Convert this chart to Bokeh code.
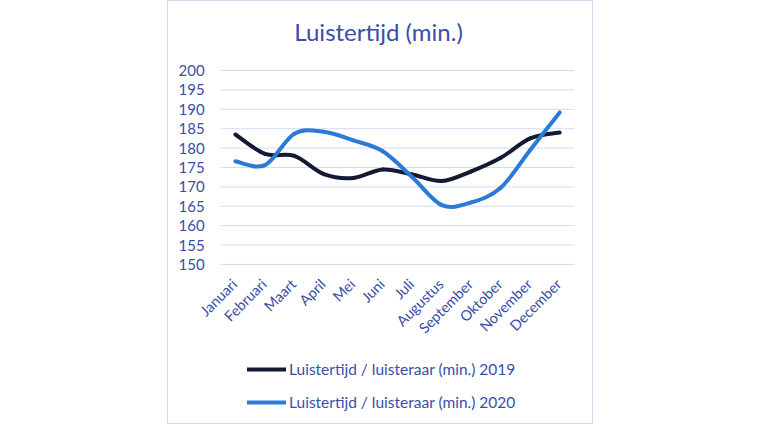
import numpy as np
from bokeh.plotting import figure
from bokeh.models import Range1d, Legend, LegendItem, Spacer, ColumnDataSource
from bokeh.layouts import row
from bokeh.embed import file_html
from bokeh.resources import INLINE
from bokeh.core.properties import value

title_text = "Luistertijd (min.)"
months = ["Januari", "Februari", "Maart", "April", "Mei", "Juni", "Juli",
          "Augustus", "September", "Oktober", "November", "December"]
values_2019 = [183.5, 178.5, 178.0, 173.3, 172.3, 174.5, 173.2, 171.5, 174.0, 177.5, 182.5, 184.0]
values_2020 = [176.6, 175.6, 183.7, 184.2, 182.0, 179.2, 172.5, 165.3, 166.0, 169.8, 179.5, 189.2]
y_ticks = list(range(150, 201, 5))
y_tick_labels = [str(t) for t in y_ticks]
series_names = ["Luistertijd / luisteraar (min.) 2019", "Luistertijd / luisteraar (min.) 2020"]
series_colors = ["#141a33", "#2a7bd6"]

TEXT = "#3a4ea6"
GRID = "#d6daf0"
FONT = "Lato"
Y_MIN, Y_MAX = y_ticks[0], y_ticks[-1]
N = len(months)
X_LEFT, X_RIGHT = -0.5, N - 0.5


def bezier_source(vals):
    x = np.arange(len(vals), dtype=float)
    y = np.asarray(vals, dtype=float)
    xp = np.concatenate([[x[0]], x, [x[-1]]])
    yp = np.concatenate([[y[0]], y, [y[-1]]])
    k = 1.0 / 6.0
    x0, y0 = x[:-1], y[:-1]
    x1, y1 = x[1:], y[1:]
    cx0 = x0 + (xp[2:-1] - xp[:-3]) * k
    cy0 = y0 + (yp[2:-1] - yp[:-3]) * k
    cx1 = x1 - (xp[3:] - xp[1:-2]) * k
    cy1 = y1 - (yp[3:] - yp[1:-2]) * k
    return ColumnDataSource(dict(x0=x0, y0=y0, x1=x1, y1=y1, cx0=cx0, cy0=cy0, cx1=cx1, cy1=cy1))


# the frame covers the whole chart box; title, tick labels, month labels and legend are drawn inside it
p = figure(width=426, height=424, output_backend="svg", toolbar_location=None,
           x_range=Range1d(-2.27, 12.18), y_range=Range1d(109.5, 217.8),
           min_border_left=0, min_border_right=0, min_border_top=0, min_border_bottom=4)
p.styles = {"border": "1px solid #d9dcf0", "box-sizing": "border-box"}
p.outline_line_color = None
p.background_fill_color = "white"
p.border_fill_color = "white"
p.axis.visible = False
p.grid.grid_line_color = None

# title
p.text(x=[(X_LEFT + X_RIGHT) / 2], y=[Y_MAX], text=[title_text],
       text_align="center", text_baseline="middle", x_offset=-19, y_offset=-39,
       text_font=value(FONT), text_font_size="24px", text_color=TEXT)

# horizontal gridlines and value labels
p.segment(x0=[X_LEFT] * len(y_ticks), y0=y_ticks, x1=[X_RIGHT] * len(y_ticks), y1=y_ticks,
          line_color=GRID, line_width=1)
p.text(x=[X_LEFT] * len(y_ticks), y=y_ticks, text=y_tick_labels,
       text_align="right", text_baseline="middle", x_offset=-16,
       text_font=value(FONT), text_font_size="15px", text_color=TEXT)

# month labels
p.text(x=list(range(N)), y=[Y_MIN] * N, text=months,
       angle=np.pi / 4, text_align="right", text_baseline="middle",
       x_offset=-1, y_offset=17, text_font=value(FONT), text_font_size="14.5px",
       text_color=TEXT)

items = []
for vals, name, col in zip([values_2019, values_2020], series_names, series_colors):
    r = p.bezier(x0="x0", y0="y0", x1="x1", y1="y1", cx0="cx0", cy0="cy0", cx1="cx1", cy1="cy1",
                 source=bezier_source(vals), line_color=col, line_width=4, line_cap="round")
    items.append(LegendItem(label=name, renderers=[r]))

legend = Legend(items=items, location=(79, 9), orientation="vertical", margin=0,
                padding=0, spacing=13, glyph_width=39, glyph_height=20, label_height=20,
                label_standoff=3, label_text_font=FONT, label_text_font_size="15.5px",
                label_text_color=TEXT, border_line_color=None, background_fill_alpha=0)
p.add_layout(legend, "center")

layout = row(Spacer(width=167, height=424), p)
open("out.html", "w").write(file_html(layout, INLINE))
